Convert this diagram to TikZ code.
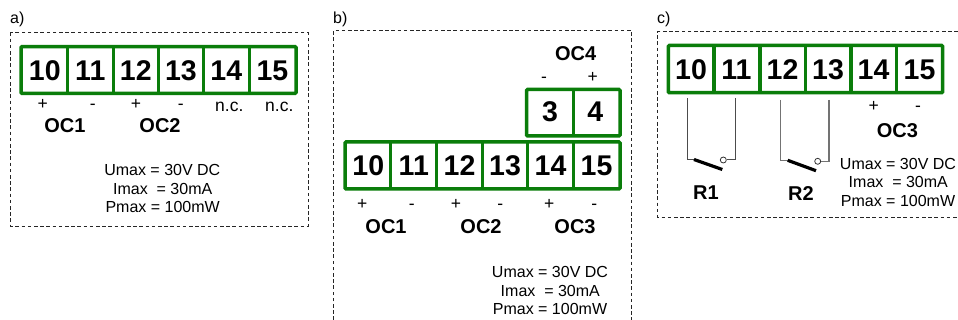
\documentclass[tikz,border=0pt]{standalone}
\usepackage{fontspec}
\setmainfont{Liberation Sans}
\definecolor{termgreen}{HTML}{0A7D0A}
\tikzset{
  x=1pt,y=-1pt,
  panel/.style={draw=black!85,line width=0.9pt,dash pattern=on 3.6pt off 2.6pt},
  strip/.style={draw=termgreen,line width=3.5pt,rounded corners=1pt},
  divider/.style={draw=termgreen,line width=3.3pt},
  num/.style={anchor=base,inner sep=0pt,font=\bfseries\fontsize{28.5}{30}\selectfont},
  oc/.style={anchor=base,inner sep=0pt,font=\bfseries\fontsize{20}{22}\selectfont},
  small/.style={anchor=base,inner sep=0pt,font=\fontsize{16}{18}\selectfont},
  sign/.style={anchor=base,inner sep=0pt,font=\fontsize{17.5}{18}\selectfont},
  wire/.style={draw=black!70,line width=1pt},
  blade/.style={draw=black,line width=3.2pt},
  contact/.style={circle,draw=black!80,fill=white,line width=0.8pt,minimum size=6pt,inner sep=0pt},
}
\begin{document}
\begin{tikzpicture}
\path[use as bounding box,fill=white] (0,0) rectangle (958,320);
% ---------- panel a
\node[small,anchor=base west] (la) at (10,24) {a)};
\draw[panel] (10.5,32.5) rectangle (308,226);
\draw[strip] (21,46.7) rectangle (296,93.3);
\foreach \x in {67.7,113.3,158.3,203.3,249.3} \draw[divider] (\x,46.7) -- (\x,93.3);
\node[num] (a10) at (44.8,81) {10};
\node[num] (a11) at (90.3,81) {11};
\node[num] (a12) at (135.8,81) {12};
\node[num] (a13) at (181,81) {13};
\node[num] (a14) at (226.3,81) {14};
\node[num] (a15) at (272.5,81) {15};
\node[sign] (ap1) at (42.7,110) {+};
\node[sign] (am1) at (92.7,110) {-};
\node[sign] (ap2) at (136,110) {+};
\node[sign] (am2) at (180.7,110) {-};
\node[sign] (anc1) at (229.3,111.7) {n.c.};
\node[sign] (anc2) at (279.3,111.7) {n.c.};
\node[oc] (aoc1) at (65,132.7) {OC1};
\node[oc] (aoc2) at (160,132.7) {OC2};
\node[small] (au) at (162.3,176) {Umax = 30V DC};
\node[small] (ai) at (162.7,195) {Imax\ \ = 30mA};
\node[small] (ap) at (162.7,212.7) {Pmax = 100mW};
% ---------- panel b
\node[small,anchor=base west] (lb) at (333,24) {b)};
\draw[panel] (333.5,320) -- (333.5,30.7) -- (631.7,30.7) -- (631.7,320);
\node[oc] (boc4) at (575.7,61) {OC4};
\node[sign] (bm4) at (544,83) {-};
\node[sign] (bp4) at (592.7,83) {+};
\draw[strip] (526.7,89.5) rectangle (620,136);
\draw[divider] (573.3,89.5) -- (573.3,136);
\node[num] (b3) at (550,121.7) {3};
\node[num] (b4) at (595.3,121.7) {4};
\draw[strip] (345,142) rectangle (620,189);
\foreach \x in {390.7,436.7,482.3,527.7,573.3} \draw[divider] (\x,142) -- (\x,189);
\node[num] (b10) at (368.3,175.7) {10};
\node[num] (b11) at (413.8,175.7) {11};
\node[num] (b12) at (459.5,175.7) {12};
\node[num] (b13) at (505,175.7) {13};
\node[num] (b14) at (550.5,175.7) {14};
\node[num] (b15) at (596.5,175.7) {15};
\node[sign] (bp1) at (362.3,210) {+};
\node[sign] (bm1) at (411.7,210) {-};
\node[sign] (bp2) at (456,210) {+};
\node[sign] (bm2) at (500.3,210) {-};
\node[sign] (bp3) at (549.3,210) {+};
\node[sign] (bm3) at (594.3,210) {-};
\node[oc] (boc1) at (386,234) {OC1};
\node[oc] (boc2) at (481,234) {OC2};
\node[oc] (boc3) at (575,234) {OC3};
\node[small] (bu) at (550,277.3) {Umax = 30V DC};
\node[small] (bi) at (550.3,296) {Imax\ \ = 30mA};
\node[small] (bpm) at (550,314) {Pmax = 100mW};
% ---------- panel c
\node[small,anchor=base west] (lc) at (657,24) {c)};
\draw[panel] (958,31.7) -- (657.7,31.7) -- (657.7,217.3) -- (958,217.3);
\draw[strip] (668.3,45.5) rectangle (942.7,92.7);
\foreach \x in {714,760,805.3,851,896.7} \draw[divider] (\x,45.5) -- (\x,92.7);
\node[num] (c10) at (691,80) {10};
\node[num] (c11) at (736.5,80) {11};
\node[num] (c12) at (782.5,80) {12};
\node[num] (c13) at (828,80) {13};
\node[num] (c14) at (873.5,80) {14};
\node[num] (c15) at (919.5,80) {15};
\node[sign] (cp3) at (873.7,111.7) {+};
\node[sign] (cm3) at (918,111.7) {-};
\node[oc] (coc3) at (897.3,137.7) {OC3};
\node[small] (cu) at (898,170) {Umax = 30V DC};
\node[small] (ci) at (898.3,188) {Imax\ \ = 30mA};
\node[small] (cpm) at (898,206.7) {Pmax = 100mW};
% relay R1
\coordinate (r1a) at (687,98.3);
\coordinate (r1b) at (735.3,98.3);
\coordinate (r1h) at (694,159.5);
\coordinate (r1e) at (722.3,169.5);
\node[contact] (r1c) at (723.3,160) {};
\draw[wire] (r1a) |- (r1h);
\draw[wire] (r1b) |- (r1c);
\draw[blade] (r1h) -- (r1e);
\node[oc] (r1) at (706,200) {R1};
% relay R2
\coordinate (r2a) at (780.7,100);
\coordinate (r2b) at (829,100);
\coordinate (r2h) at (787.7,160.3);
\coordinate (r2e) at (816,170.7);
\node[contact] (r2c) at (817.7,161.3) {};
\draw[wire,draw=black!55,line width=1.3pt] (r2a) |- (r2h);
\draw[wire,draw=black!55,line width=1.3pt] (r2b) |- (r2c);
\draw[blade] (r2h) -- (r2e);
\node[oc] (r2) at (801,201) {R2};
\end{tikzpicture}
\end{document}
